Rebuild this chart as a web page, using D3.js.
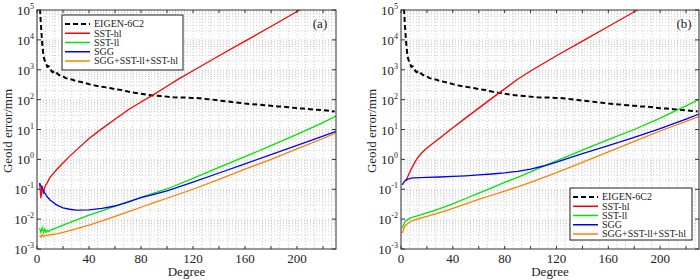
<!DOCTYPE html>
<html>
<head>
<meta charset="utf-8">
<script src="https://cdn.jsdelivr.net/npm/d3@7"></script>
<style>
  body { margin: 0; background: #fff; }
  svg text { font-family: "Liberation Serif", "Times New Roman", serif; fill: #222; }
</style>
</head>
<body>
<div id="container"></div>
<script>
// tick labels
var degTicks = [0, 40, 80, 120, 160, 200];
var expTicks = [-3, -2, -1, 0, 1, 2, 3, 4, 5];
var seriesNames = ["EIGEN-6C2", "SST-hl", "SST-ll", "SGG", "SGG+SST-ll+SST-hl"];
var seriesColors = ["#000000", "#ff0000", "#00e600", "#0000ff", "#ff8000"];

// [degree, geoid error in mm]
var eigen6c2 = [[2,2.0e5],[3,3.2e4],[4,7.9e3],[5,2.8e3],[6,2.0e3],[7,1.6e3],[8,1.25e3],[9,1.3e3],[10,1.05e3],[12,830],[14,910],[16,710],[18,630],[20,600],[22,525],[24,500],[26,480],[28,455],[30,415],[33,400],[36,370],[40,330],[44,300],[48,275],[52,262],[56,245],[60,225],[65,210],[70,186],[75,170],[80,158],[85,145],[90,138],[95,132],[100,126],[105,120],[110,117],[115,117],[120,114],[125,112],[130,105],[135,100],[140,93],[145,89],[150,83],[155,79],[160,74],[165,71],[170,68],[175,65],[180,62],[185,59],[190,58],[195,55],[200,51],[205,50],[210,48],[215,46],[220,44],[225,42],[229,40]];

// panel (a)
var sstHlA = [[2,0.16],[3,0.05],[4,0.13],[5,0.07],[6,0.12],[8,0.17],[10,0.25],[15,0.45],[20,0.76],[25,1.26],[30,2.0],[40,5.0],[50,10.7],[60,22],[70,45],[80,83],[90,150],[100,280],[110,525],[120,930],[140,2950],[160,9100],[180,2.8e4],[200,8.9e4],[210,1.6e5]];
var sstLlA = [[2,0.005],[3,0.0036],[4,0.0052],[5,0.0036],[6,0.0047],[7,0.0036],[8,0.0042],[9,0.0038],[10,0.0042],[15,0.0051],[20,0.0063],[25,0.0076],[30,0.0093],[40,0.0135],[50,0.019],[60,0.027],[70,0.036],[80,0.054],[90,0.074],[100,0.102],[120,0.23],[140,0.54],[160,1.23],[180,2.9],[200,6.9],[220,17],[230,28]];
var sggA = [[2,0.158],[4,0.105],[6,0.074],[8,0.055],[10,0.044],[15,0.030],[20,0.024],[25,0.0214],[30,0.020],[40,0.0204],[50,0.0229],[60,0.0275],[70,0.038],[80,0.052],[90,0.068],[100,0.089],[120,0.174],[140,0.35],[160,0.71],[180,1.45],[200,2.95],[220,6.0],[230,8.7]];
var combA = [[2,0.0028],[3,0.0025],[4,0.003],[5,0.0026],[6,0.0028],[8,0.0028],[10,0.003],[15,0.0032],[20,0.0036],[30,0.0047],[40,0.0063],[50,0.0087],[60,0.0123],[70,0.0174],[80,0.025],[90,0.0355],[100,0.05],[120,0.1],[140,0.214],[160,0.47],[180,1.0],[200,2.24],[220,5.0],[230,7.8]];

// panel (b)
var sstHlB = [[4,0.19],[5,0.25],[6,0.32],[8,0.48],[10,0.71],[12,1.0],[15,1.48],[20,2.4],[25,3.55],[30,5.2],[40,11.5],[50,24.5],[60,52],[70,110],[80,229],[90,479],[100,912],[120,2950],[140,9100],[160,2.8e4],[180,8.7e4],[190,1.5e5]];
var sstLlB = [[1,0.005],[2,0.0066],[3,0.0079],[4,0.0089],[6,0.0102],[8,0.0112],[10,0.012],[15,0.0138],[20,0.0162],[30,0.0224],[40,0.0324],[50,0.049],[60,0.074],[70,0.112],[80,0.17],[90,0.251],[100,0.38],[110,0.59],[120,0.89],[140,2.04],[160,4.57],[180,10],[200,24],[220,62],[230,100]];
var sggB = [[1,0.141],[2,0.166],[3,0.19],[4,0.21],[6,0.224],[8,0.234],[10,0.24],[20,0.251],[30,0.257],[40,0.269],[50,0.282],[60,0.302],[70,0.324],[80,0.355],[90,0.398],[100,0.468],[110,0.6],[120,0.81],[140,1.55],[160,2.9],[180,5.5],[200,10.7],[220,22.4],[230,33]];
var combB = [[1,0.0034],[2,0.0047],[3,0.0058],[4,0.0065],[6,0.0076],[8,0.0085],[10,0.0093],[15,0.0107],[20,0.0123],[30,0.0166],[40,0.0229],[50,0.0324],[60,0.0457],[70,0.063],[80,0.087],[90,0.12],[100,0.17],[120,0.363],[140,0.79],[160,1.78],[180,3.98],[200,8.9],[220,18.6],[230,27]];

(function(){

  var width = 700, height = 280
  var top = 10, bottom = 249

  var svg = d3.select("#container")
      .append("svg")
        .attr("width", width)
        .attr("height", height)

  var y = d3.scaleLog().domain([1e-3, 1e5]).range([bottom, top])

  // minor values per decade for grid
  var gridVals = []
  for (var e = -3; e < 5; e++) {
    for (var k = 1; k < 10; k++) gridVals.push(k * Math.pow(10, e))
  }

  function drawPanel(p){
    var x = d3.scaleLinear().domain([0, 230]).range([p.left, p.right])
    var g = svg.append("g")

    // dotted grid
    var vx = d3.range(0, 35).map(function(i){ return i * 20 / 3 })
    g.selectAll(".vgrid").data(vx).enter().append("line")
      .attr("x1", function(d){ return x(d) }).attr("x2", function(d){ return x(d) })
      .attr("y1", top).attr("y2", bottom)
      .attr("stroke", "#c4c4c4").attr("stroke-width", 0.8)
      .attr("stroke-dasharray", "1,2")
    g.selectAll(".hgrid").data(gridVals.slice(1)).enter().append("line")
      .attr("x1", p.left).attr("x2", p.right)
      .attr("y1", function(d){ return y(d) }).attr("y2", function(d){ return y(d) })
      .attr("stroke", "#c4c4c4").attr("stroke-width", 0.8)
      .attr("stroke-dasharray", "1,2")

    // clip
    svg.append("clipPath").attr("id", "clip" + p.id)
      .append("rect")
        .attr("x", p.left).attr("y", top)
        .attr("width", p.right - p.left).attr("height", bottom - top)

    var line = d3.line()
      .x(function(d){ return x(d[0]) })
      .y(function(d){ return y(d[1]) })

    var lines = g.append("g").attr("clip-path", "url(#clip" + p.id + ")")
    p.series.forEach(function(s, i){
      lines.append("path")
        .attr("d", line(s))
        .attr("fill", "none")
        .attr("stroke", seriesColors[i])
        .attr("stroke-width", i === 0 ? 2 : 1.3)
        .attr("stroke-dasharray", i === 0 ? "5,3" : null)
    })

    // frame + ticks
    g.append("rect")
      .attr("x", p.left).attr("y", top)
      .attr("width", p.right - p.left).attr("height", bottom - top)
      .attr("fill", "none").attr("stroke", "#333").attr("stroke-width", 1)

    var xt = d3.range(0, 230, 20)
    xt.forEach(function(d){
      g.append("line").attr("x1", x(d)).attr("x2", x(d)).attr("y1", bottom).attr("y2", bottom - 3).attr("stroke", "#333")
      g.append("line").attr("x1", x(d)).attr("x2", x(d)).attr("y1", top).attr("y2", top + 3).attr("stroke", "#333")
    })
    expTicks.forEach(function(e){
      var yy = y(Math.pow(10, e))
      g.append("line").attr("x1", p.left).attr("x2", p.left + 4).attr("y1", yy).attr("y2", yy).attr("stroke", "#333")
      g.append("line").attr("x1", p.right).attr("x2", p.right - 4).attr("y1", yy).attr("y2", yy).attr("stroke", "#333")
    })

    // tick labels
    g.selectAll(".xl").data(degTicks).enter().append("text")
      .attr("x", function(d){ return x(d) })
      .attr("y", bottom + 14)
      .attr("text-anchor", "middle")
      .style("font-size", "13px")
      .text(function(d){ return d })

    var yl = g.selectAll(".yl").data(expTicks).enter().append("text")
      .attr("x", p.left - 3)
      .attr("y", function(d){ return y(Math.pow(10, d)) + 5 })
      .attr("text-anchor", "end")
      .style("font-size", "13px")
    yl.append("tspan").text("10")
    yl.append("tspan").attr("dy", -6).style("font-size", "8px").text(function(d){ return d })

    // axis titles
    g.append("text")
      .attr("x", (p.left + p.right) / 2).attr("y", 276)
      .attr("text-anchor", "middle")
      .style("font-size", "13px")
      .text("Degree")
    g.append("text")
      .attr("transform", "translate(" + (p.left - 25) + "," + 131 + ") rotate(-90)")
      .attr("text-anchor", "middle")
      .style("font-size", "13px")
      .text("Geoid error/mm")

    g.append("text")
      .attr("x", p.tagX).attr("y", 28)
      .attr("text-anchor", "middle")
      .style("font-size", "13px")
      .text(p.tag)

    // legend
    var lg = g.append("g").attr("transform", "translate(" + p.legX + "," + p.legY + ")")
    lg.append("rect")
      .attr("width", p.legW).attr("height", p.legH)
      .attr("fill", "#fff").attr("stroke", "#222").attr("stroke-width", 1)
    seriesNames.forEach(function(name, i){
      var ly = 9 + i * 9.25
      lg.append("line")
        .attr("x1", 3).attr("x2", 28).attr("y1", ly).attr("y2", ly)
        .attr("stroke", seriesColors[i])
        .attr("stroke-width", i === 0 ? 2 : 1.5)
        .attr("stroke-dasharray", i === 0 ? "5,3" : null)
      lg.append("text")
        .attr("x", 32).attr("y", ly + 3.3)
        .style("font-size", "10px")
        .text(name)
    })
  }

  drawPanel({ id: "a", left: 37, right: 336, tag: "(a)", tagX: 320,
    legX: 62, legY: 15, legW: 121, legH: 55,
    series: [eigen6c2, sstHlA, sstLlA, sggA, combA] })

  drawPanel({ id: "b", left: 401, right: 699, tag: "(b)", tagX: 684,
    legX: 570, legY: 188, legW: 122, legH: 52,
    series: [eigen6c2, sstHlB, sstLlB, sggB, combB] })

})()
</script>
</body>
</html>
